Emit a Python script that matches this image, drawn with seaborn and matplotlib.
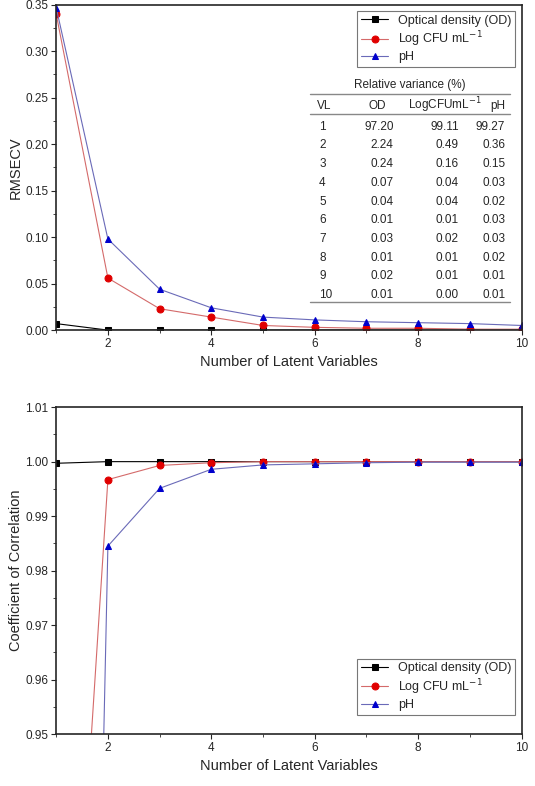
import numpy as np
import seaborn as sns
from matplotlib import pyplot as plt
from matplotlib.ticker import AutoMinorLocator

lv = np.arange(1, 11)
rmsecv_od = [0.007, 0.0, 0.0, 0.0, 0.0, 0.0, 0.0, 0.0, 0.0, 0.0]
rmsecv_cfu = [0.340, 0.056, 0.023, 0.014, 0.005, 0.003, 0.002, 0.002, 0.001, 0.001]
rmsecv_ph = [0.347, 0.098, 0.044, 0.024, 0.014, 0.011, 0.009, 0.008, 0.007, 0.005]

corr_od = [0.9997, 1.0, 1.0, 1.0, 1.0, 1.0, 1.0, 1.0, 1.0, 1.0]
corr_cfu = [0.85, 0.9967, 0.9993, 0.9998, 1.0, 1.0, 1.0, 1.0, 1.0, 1.0]
corr_ph = [0.55, 0.9845, 0.9951, 0.9986, 0.9994, 0.9996, 0.9998, 0.9999, 0.9999, 0.9999]

var_od = ['97.20', '2.24', '0.24', '0.07', '0.04', '0.01', '0.03', '0.01', '0.02', '0.01']
var_cfu = ['99.11', '0.49', '0.16', '0.04', '0.04', '0.01', '0.02', '0.01', '0.01', '0.00']
var_ph = ['99.27', '0.36', '0.15', '0.03', '0.02', '0.03', '0.03', '0.02', '0.01', '0.01']

sns.set_style('ticks')
plt.rcParams['font.family'] = ['Liberation Sans', 'DejaVu Sans']

fig = plt.figure(figsize=(5.35, 7.86), dpi=100)
ax1 = fig.add_axes([0.105, 0.58, 0.87, 0.414])
ax2 = fig.add_axes([0.105, 0.066, 0.87, 0.416])

series = [
    ('Optical density (OD)', 'black', 's', 'k'),
    ('Log CFU mL$^{-1}$', '#d46a6a', 'o', '#e00000'),
    ('pH', '#6a6ab8', '^', '#0000cc'),
]


def draw(ax, ys, loc):
    for y, (label, lc, m, mc) in zip(ys, series):
        sns.lineplot(x=lv, y=y, ax=ax, color=lc, lw=0.8, marker=m, markersize=5,
                     markerfacecolor=mc, markeredgecolor=mc, label=label)
    ax.set_xlim(1, 10)
    ax.set_xticks([2, 4, 6, 8, 10])
    ax.xaxis.set_minor_locator(AutoMinorLocator(2))
    ax.yaxis.set_minor_locator(AutoMinorLocator(2))
    ax.tick_params(labelsize=8.5, pad=2)
    ax.set_xlabel('Number of Latent Variables', fontsize=10.5)
    for s in ax.spines.values():
        s.set_visible(True)
        s.set_linewidth(1.2)
    leg = ax.legend(loc=loc, fontsize=9, frameon=True, fancybox=False,
                    edgecolor='#555555', handlelength=2.2, borderpad=0.3, labelspacing=0.2)
    leg.get_frame().set_linewidth(0.8)


draw(ax1, [rmsecv_od, rmsecv_cfu, rmsecv_ph], 'upper right')
ax1.set_ylim(0, 0.35)
ax1.set_yticks(np.arange(0, 0.351, 0.05))
ax1.set_ylabel('RMSECV', fontsize=10.5, labelpad=2)

# relative variance table
tr = ax1.transAxes
fs = 8.5
ax1.text(0.76, 0.745, 'Relative variance (%)', transform=tr, ha='center', fontsize=fs)
ax1.text(0.56, 0.68, 'VL', transform=tr, ha='left', fontsize=fs)
ax1.text(0.69, 0.68, 'OD', transform=tr, ha='center', fontsize=fs)
ax1.text(0.835, 0.68, 'LogCFUmL$^{-1}$', transform=tr, ha='center', fontsize=fs)
ax1.text(0.965, 0.68, 'pH', transform=tr, ha='right', fontsize=fs)
ax1.plot([0.545, 0.975], [0.727, 0.727], transform=tr, color='#888888', lw=1)
ax1.plot([0.545, 0.975], [0.665, 0.665], transform=tr, color='#888888', lw=1)
ax1.plot([0.545, 0.975], [0.085, 0.085], transform=tr, color='#888888', lw=1)
for i in range(10):
    yy = 0.625 - i * 0.0575
    ax1.text(0.565, yy, str(lv[i]), transform=tr, ha='left', fontsize=fs, va='center')
    ax1.text(0.725, yy, var_od[i], transform=tr, ha='right', fontsize=fs, va='center')
    ax1.text(0.865, yy, var_cfu[i], transform=tr, ha='right', fontsize=fs, va='center')
    ax1.text(0.965, yy, var_ph[i], transform=tr, ha='right', fontsize=fs, va='center')

draw(ax2, [corr_od, corr_cfu, corr_ph], 'lower right')
ax2.set_ylim(0.95, 1.01)
ax2.set_yticks(np.arange(0.95, 1.0101, 0.01))
ax2.set_ylabel('Coefficient of Correlation', fontsize=10.5, labelpad=2)
ax2.legend_.set_bbox_to_anchor((1.0, 0.04))

fig.savefig('out.png', dpi=100)
